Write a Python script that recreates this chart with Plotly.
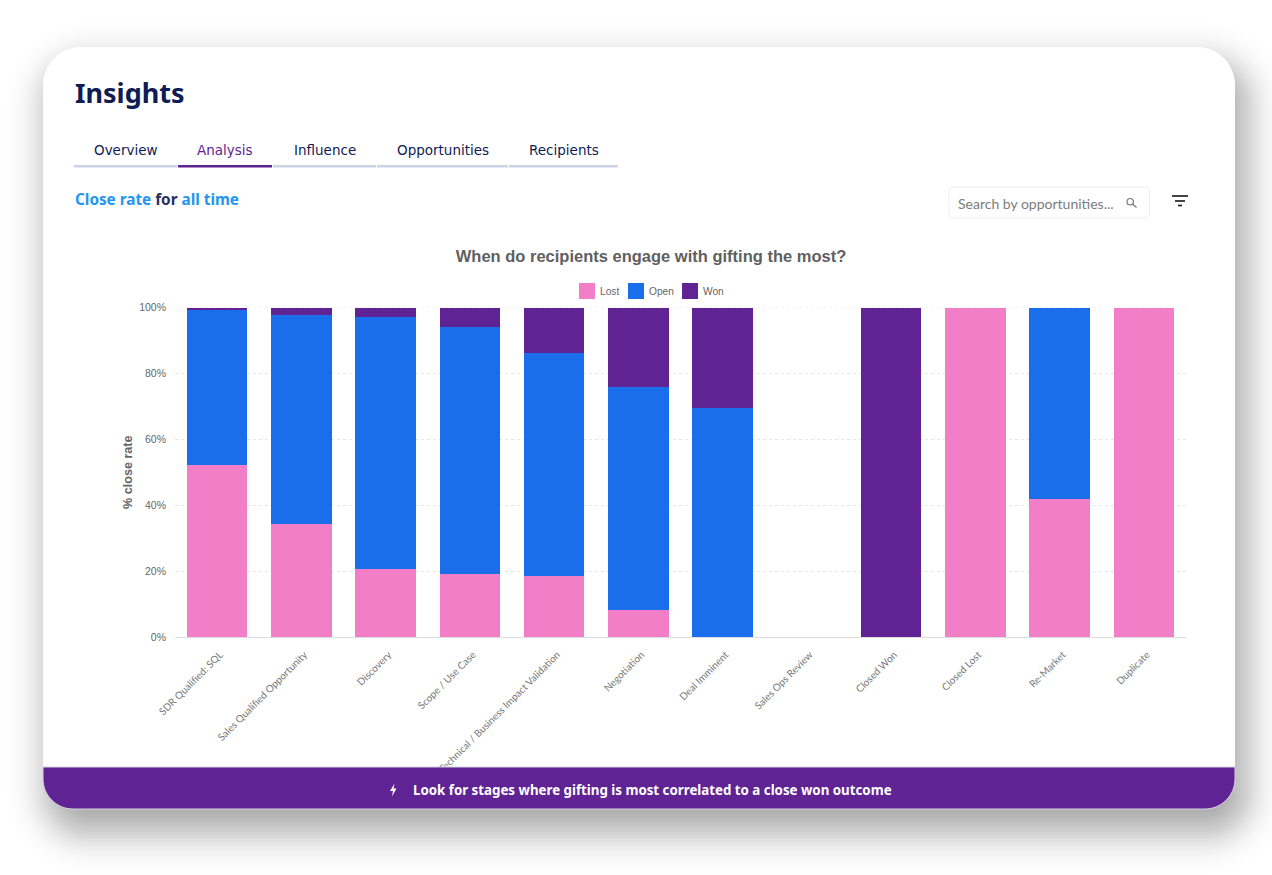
import math
import plotly.graph_objects as go

stages = ["SDR Qualified: SQL", "Sales Qualified Opportunity", "Discovery", "Scope / Use Case",
          "Technical / Business Impact Validation", "Negotiation", "Deal Imminent", "Sales Ops Review",
          "Closed Won", "Closed Lost", "Re-Market", "Duplicate"]
lost = [52.2, 34.2, 20.6, 19.0, 18.5, 8.2, 0, 0, 0, 100, 42.0, 100]
open_ = [47.2, 63.4, 76.5, 75.0, 67.7, 67.8, 69.5, 0, 0, 0, 58.0, 0]
won = [0.6, 2.4, 2.9, 6.0, 13.8, 24.0, 30.5, 0, 100, 0, 0, 0]

tabs = ["Overview", "Analysis", "Influence", "Opportunities", "Recipients"]
PINK, BLUE, PURPLE = "#f27ec8", "#1a6eeb", "#5f2394"
NAVY = "#0f1c56"
W, H = 1272, 875
FONT_UI = "Noto Sans"
FONT_TAB = "DejaVu Sans"
FONT_CHART = "Liberation Sans"

def X(p): return p / W
def Y(p): return 1 - p / H

def rounded(x0, y0, x1, y1, tl, tr=None, br=None, bl=None):
    tr = tl if tr is None else tr
    br = tl if br is None else br
    bl = tl if bl is None else bl
    k = 0.45
    pts = [f"M{X(x0+tl)},{Y(y0)}", f"L{X(x1-tr)},{Y(y0)}",
           f"C{X(x1-tr*k)},{Y(y0)} {X(x1)},{Y(y0+tr*k)} {X(x1)},{Y(y0+tr)}",
           f"L{X(x1)},{Y(y1-br)}",
           f"C{X(x1)},{Y(y1-br*k)} {X(x1-br*k)},{Y(y1)} {X(x1-br)},{Y(y1)}",
           f"L{X(x0+bl)},{Y(y1)}",
           f"C{X(x0+bl*k)},{Y(y1)} {X(x0)},{Y(y1-bl*k)} {X(x0)},{Y(y1-bl)}",
           f"L{X(x0)},{Y(y0+tl)}",
           f"C{X(x0)},{Y(y0+tl*k)} {X(x0+tl*k)},{Y(y0)} {X(x0+tl)},{Y(y0)}", "Z"]
    return " ".join(pts)

shapes = []
def add_path(d, fill, layer="below", line=None, opacity=1):
    shapes.append(dict(type="path", xref="paper", yref="paper", path=d, fillcolor=fill, layer=layer,
                       opacity=opacity, line=line or dict(width=0)))
def add_rect(x0, y0, x1, y1, fill, layer="below", line=None):
    shapes.append(dict(type="rect", xref="paper", yref="paper", x0=X(x0), x1=X(x1), y0=Y(y1), y1=Y(y0),
                       fillcolor=fill, layer=layer, line=line or dict(width=0)))

# card shadow
CARD = (43, 47, 1235, 809)
sigma, dx, dy, peak = 20, 8, 20, 0.42
steps = list(range(48, -49, -3))
for d in steps:
    w = math.exp(-d * d / (2 * sigma * sigma)) / (sigma * math.sqrt(2 * math.pi)) * 3
    add_path(rounded(CARD[0]+dx-d, CARD[1]+dy-d, CARD[2]+dx+d, CARD[3]+dy+d, max(6, 38+d)),
             "#000000", opacity=peak * w)
# card and footer band
add_path(rounded(*CARD, 38), "#ffffff")
add_path(rounded(CARD[0], 767, CARD[2], CARD[3], 0, 0, 30, 30), PURPLE, layer="above",
         line=dict(color="#d9d3e2", width=1))

# tab underlines
tab_spans = [(74, 177), (178, 272), (273, 376), (377, 508), (509, 618)]
for i, (a, b) in enumerate(tab_spans):
    add_rect(a, 165, b, 167.5, PURPLE if i == 1 else "#cdd3e6")

# search box
add_path(rounded(949, 187, 1149.5, 218, 4), "#ffffff", line=dict(color="#eceef5", width=1))
shapes.append(dict(type="circle", xref="paper", yref="paper", x0=X(1127), x1=X(1133.5), y0=Y(205), y1=Y(198.5),
                   line=dict(color="#777777", width=1.2), layer="below"))
shapes.append(dict(type="line", xref="paper", yref="paper", x0=X(1132.5), x1=X(1136.5), y0=Y(204), y1=Y(207.5),
                   line=dict(color="#777777", width=1.2), layer="below"))
# filter icon
for a, b, y in [(1172, 1188, 196), (1175, 1185, 201), (1178, 1182, 205.5)]:
    shapes.append(dict(type="line", xref="paper", yref="paper", x0=X(a), x1=X(b), y0=Y(y), y1=Y(y),
                       line=dict(color="#222222", width=1.7), layer="below"))
# lightning icon
shapes.append(dict(type="path", xref="paper", yref="paper", layer="above", fillcolor="#ffffff", line=dict(width=0),
                   path=f"M{X(394.5)},{Y(783.5)} L{X(390)},{Y(791)} L{X(393)},{Y(791)} L{X(392)},{Y(796.5)} "
                        f"L{X(396.5)},{Y(788.5)} L{X(393.5)},{Y(788.5)} Z"))
# dotted line along the 100% gridline
shapes.append(dict(type="line", xref="x domain", yref="y", x0=0, x1=1, y0=100, y1=100, layer="below",
                   line=dict(color="#e6e6e6", width=1, dash="dot")))

def note(text, x, y, size, color, anchor="left", font=FONT_UI):
    return dict(text=text, x=X(x), y=Y(y), xref="paper", yref="paper", showarrow=False, xanchor=anchor,
                yanchor="middle", font=dict(family=font, size=size, color=color))

annotations = [note("<b>Insights</b>", 73, 92, 27, NAVY)]
for i, (t, (a, b)) in enumerate(zip(tabs, tab_spans)):
    annotations.append(note(t, (a + b) / 2, 150, 13.5, PURPLE if i == 1 else NAVY, "center", FONT_TAB))
annotations.append(note('<b><span style="color:#2196f3">Close rate</span> for '
                        '<span style="color:#2196f3">all time</span></b>', 73, 199.5, 15.3, "#27305f"))
annotations.append(note("Search by opportunities...", 956, 203, 14, "#7c7c7c", font="Lato"))
annotations.append(note("<b>Look for stages where gifting is most correlated to a close won outcome</b>",
                        411, 790, 13.3, "#ffffff"))

# legend keys (square swatches with tight labels)
legend_items = [("Lost", PINK, 579), ("Open", BLUE, 628), ("Won", PURPLE, 682)]
for name, col, x0 in legend_items:
    add_rect(x0, 283, x0 + 16, 299, col)
    annotations.append(note(name, x0 + 19, 291.5, 10.2, "#666666", font=FONT_CHART))

fig = go.Figure()
for name, vals, col in [("Lost", lost, PINK), ("Open", open_, BLUE), ("Won", won, PURPLE)]:
    fig.add_trace(go.Bar(name=name, x=stages, y=vals, marker=dict(color=col, line=dict(width=0))))

fig.update_layout(
    width=W, height=H, autosize=False, barmode="stack", bargap=0.282, showlegend=False,
    margin=dict(l=0, r=0, t=0, b=0), paper_bgcolor="#ffffff", plot_bgcolor="rgba(0,0,0,0)",
    font=dict(family=FONT_CHART, color="#666666"),
    title=dict(text="<b>When do recipients engage with gifting the most?</b>", x=X(651), xanchor="center",
               y=Y(256), yanchor="middle", font=dict(family=FONT_CHART, size=16.5, color="#5f5f5f")),
    xaxis=dict(domain=[X(175), X(1186)], tickangle=-45, showgrid=False, showline=True, linecolor="#dddddd",
               linewidth=1, ticks="", tickfont=dict(family="Lato", size=10, color="#777777"),
               ticklabelstandoff=7, ticklabelshift=3, anchor="y", automargin=False),
    yaxis=dict(domain=[Y(637), Y(307.5)], range=[0, 100], dtick=20, ticksuffix="%", showgrid=True,
               gridcolor="#e6e6e6", griddash="dot", gridwidth=1, zeroline=False, ticks="",
               ticklabelstandoff=8,
               tickfont=dict(family=FONT_CHART, size=10.5, color="#666666"), automargin=False,
               title=dict(text="<b>% close rate</b>", standoff=3,
                          font=dict(family=FONT_CHART, size=12.6, color="#666666"))),
    shapes=shapes, annotations=annotations,
)

fig.write_html("out.html", post_script="document.body.style.margin='0';document.body.style.overflow='hidden';",
               config=dict(displayModeBar=False))
